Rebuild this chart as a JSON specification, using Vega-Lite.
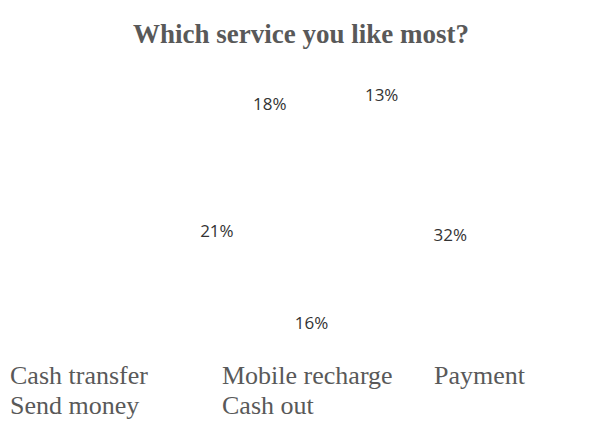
{
  "$schema": "https://vega.github.io/schema/vega-lite/v6.json",
  "autosize": "none",
  "width": 400,
  "height": 300,
  "padding": {"left": 134, "top": 56, "right": 56, "bottom": 69},
  "background": "white",
  "title": {
    "text": "Which service you like most?",
    "font": "Liberation Serif",
    "fontSize": 27,
    "fontWeight": "bold",
    "color": "#595959",
    "anchor": "middle",
    "dx": -33,
    "offset": -14,
    "baseline": "alphabetic"
  },
  "data": {
    "values": [
      {"service": "Cash transfer", "share": 0.13, "idx": 1},
      {"service": "Mobile recharge", "share": 0.32, "idx": 2},
      {"service": "Payment", "share": 0.16, "idx": 3},
      {"service": "Send money", "share": 0.21, "idx": 4},
      {"service": "Cash out", "share": 0.18, "idx": 5}
    ]
  },
  "mark": {"type": "text", "radius": 120, "font": "Open Sans", "fontSize": 17},
  "encoding": {
    "theta": {"field": "share", "type": "quantitative", "stack": true},
    "order": {"field": "idx", "type": "quantitative"},
    "text": {"field": "share", "type": "quantitative", "format": ".0%"},
    "color": {
      "field": "service",
      "type": "nominal",
      "scale": {
        "domain": ["Cash transfer", "Mobile recharge", "Payment", "Send money", "Cash out"],
        "range": ["#333333", "#333333", "#333333", "#333333", "#333333"]
      },
      "legend": {
        "orient": "none",
        "legendX": -150,
        "legendY": 307,
        "direction": "horizontal",
        "columns": 3,
        "gridAlign": "all",
        "columnPadding": 15,
        "rowPadding": 4,
        "title": null,
        "labelFont": "Liberation Serif",
        "labelFontSize": 26,
        "labelColor": "#595959",
        "labelLimit": 0,
        "labelOffset": 0,
        "symbolSize": 0,
        "symbolOpacity": 0,
        "symbolStrokeWidth": 0
      }
    }
  },
  "config": {"view": {"stroke": null}}
}
